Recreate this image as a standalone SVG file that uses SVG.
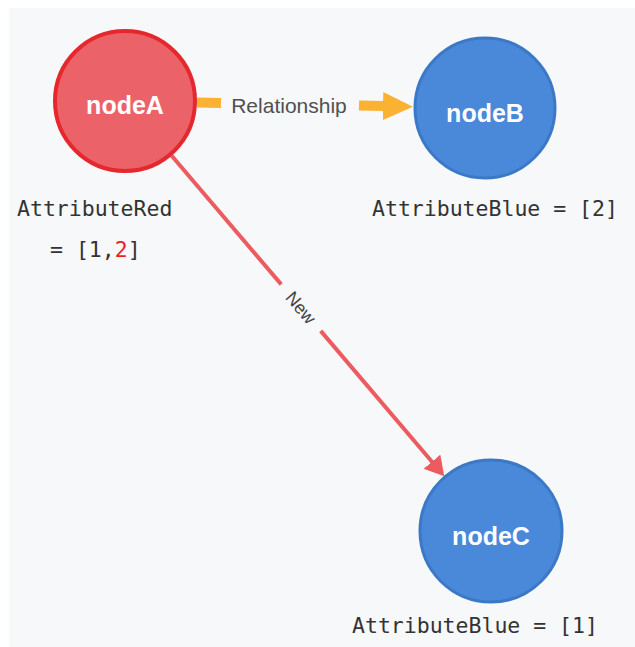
<svg xmlns="http://www.w3.org/2000/svg" width="635" height="647" viewBox="0 0 635 647">
  <defs>
    <marker id="arrOrange" markerUnits="userSpaceOnUse" markerWidth="32" markerHeight="30" refX="1" refY="14" orient="auto">
      <path d="M0,0 L30,14 L0,28 z" fill="#fbb233"/>
    </marker>
    <marker id="arrRed" markerUnits="userSpaceOnUse" markerWidth="22" markerHeight="24" refX="1" refY="11" orient="auto">
      <path d="M0,0 L19,11 L0,22 z" fill="#ec5b60"/>
    </marker>
    <style>
      .red { fill: #eb6368; stroke: #e5282d; stroke-width: 4; }
      .blue { fill: #4a88d9; stroke: #3b78c6; stroke-width: 3; }
      .nname { font-family: "Liberation Sans", Arial, sans-serif; font-weight: bold; font-size: 25px; fill: #ffffff; text-anchor: middle; }
      .attr { font-family: "DejaVu Sans Mono", "Liberation Mono", monospace; font-size: 21.5px; fill: #333333; }
      .elabel { font-family: "Liberation Sans", Arial, sans-serif; font-size: 21px; fill: #505050; text-anchor: middle; }
    </style>
  </defs>
  <rect x="0" y="0" width="635" height="647" fill="#ffffff"/>
  <rect x="9" y="8" width="626" height="639" fill="#f7f8fa"/>

  <g id="connectors">
    <g id="edge-relationship">
      <path d="M197,102.4 L221,102.9 M359,105.6 L384,106.1" fill="none" stroke="#fbb233" stroke-width="10" marker-end="url(#arrOrange)"/>
      <text class="elabel" x="289" y="113">Relationship</text>
    </g>
    <g id="edge-new">
      <path d="M171.7,155.8 L281.2,284.4 M320.7,330.9 L432.6,462.5" fill="none" stroke="#ec5b60" stroke-width="4" marker-end="url(#arrRed)"/>
      <text class="elabel" x="301" y="307.6" dy="6.5" transform="rotate(49.6 301 307.6)" style="font-size:18px;fill:#444444">New</text>
    </g>
  </g>

  <g id="nodeA">
    <circle class="red" cx="125" cy="101" r="70"/>
    <text class="nname" x="125" y="114">nodeA</text>
    <text class="attr" x="17" y="216">AttributeRed</text>
    <text class="attr" x="50" y="257">= [1,<tspan fill="#ee1c24">2</tspan>]</text>
  </g>

  <g id="nodeB">
    <circle class="blue" cx="485" cy="108" r="70"/>
    <text class="nname" x="485" y="122">nodeB</text>
    <text class="attr" x="372" y="216">AttributeBlue = [2]</text>
  </g>

  <g id="nodeC">
    <circle class="blue" cx="491" cy="531" r="71"/>
    <text class="nname" x="491" y="545">nodeC</text>
    <text class="attr" x="352" y="633">AttributeBlue = [1]</text>
  </g>
</svg>
